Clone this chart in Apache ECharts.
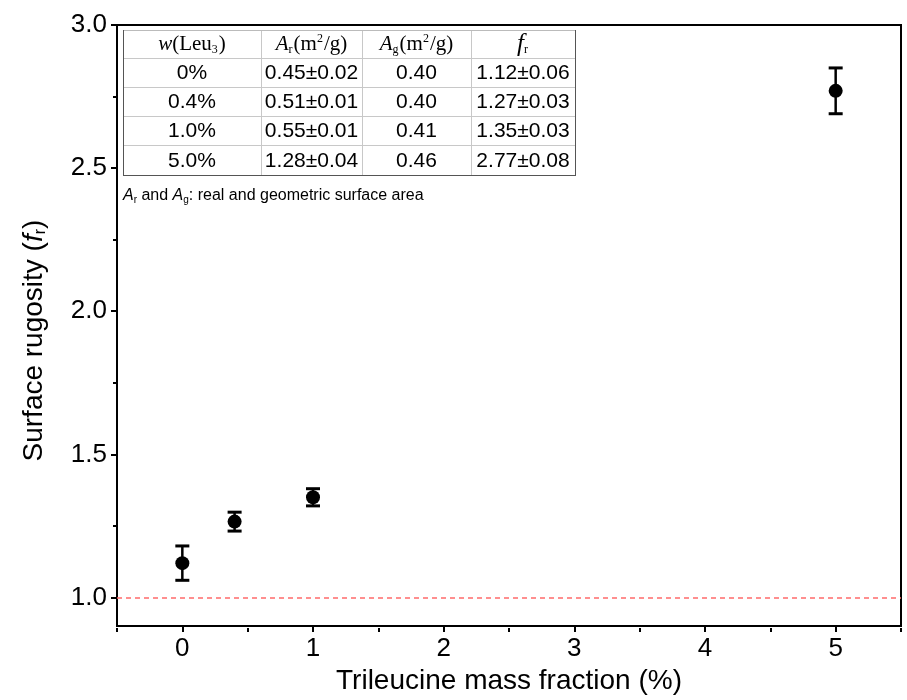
<!DOCTYPE html>
<html><head><meta charset="utf-8">
<script src="https://cdn.jsdelivr.net/npm/echarts@6/dist/echarts.min.js"></script>
<style>html,body{margin:0;padding:0;background:#fff}#c{width:907px;height:700px}</style>
</head><body><div id="c"></div>
<script>
// ---- data ----
const massFraction = [0, 0.4, 1, 5];
const rugosity = [1.12, 1.265, 1.35, 2.77];
const rugosityErr = [0.06, 0.033, 0.03, 0.08];
const xTickLabels = [0, 1, 2, 3, 4, 5];
const xMinorTicks = [-0.5, 0.5, 1.5, 2.5, 3.5, 4.5, 5.5];
const yTickLabels = [1.0, 1.5, 2.0, 2.5, 3.0];
const yMinorTicks = [1.25, 1.75, 2.25, 2.75];
const refLine = 1.0;
const tableWeight = ['0%', '0.4%', '1.0%', '5.0%'];
const tableAr = ['0.45±0.02', '0.51±0.01', '0.55±0.01', '1.28±0.04'];
const tableAg = ['0.40', '0.40', '0.41', '0.46'];
const tableFr = ['1.12±0.06', '1.27±0.03', '1.35±0.03', '2.77±0.08'];
const tableHeader = ['{i|w}{n|(Leu}{s|3}{n|)}', '{i|A}{s|r}{n|(m}{p|2}{n|/g)}', '{i|A}{s|g}{n|(m}{p|2}{n|/g)}', '{f|f}{s|r}'];
const noteText = '{i|A}{s|r}{n| and }{i|A}{s|g}{n|: real and geometric surface area}';

// ---- layout ----
const colX = [123, 261, 362, 471, 575];
const rowY = [30, 58, 87, 116, 145, 175];
const SANS = 'Liberation Sans, Arial, sans-serif';
const SERIF = 'Liberation Serif, Times New Roman, serif';

const graphics = [];
graphics.push({type: 'rect', shape: {x: colX[0], y: rowY[0], width: colX[4] - colX[0], height: rowY[5] - rowY[0]},
  style: {fill: '#fff', stroke: null}, z: 10});
for (let i = 1; i < rowY.length - 1; i++) {
  graphics.push({type: 'line', shape: {x1: colX[0], y1: rowY[i] + 0.5, x2: colX[4], y2: rowY[i] + 0.5},
    style: {stroke: '#c8c8c8', lineWidth: 1}, z: 11});
}
for (let j = 1; j < colX.length - 1; j++) {
  graphics.push({type: 'line', shape: {x1: colX[j] + 0.5, y1: rowY[0], x2: colX[j] + 0.5, y2: rowY[5]},
    style: {stroke: '#c8c8c8', lineWidth: 1}, z: 11});
}
graphics.push({type: 'line', shape: {x1: colX[0], y1: rowY[0] + 0.5, x2: colX[4], y2: rowY[0] + 0.5}, style: {stroke: '#bbb', lineWidth: 1}, z: 12});
graphics.push({type: 'line', shape: {x1: colX[0] + 0.5, y1: rowY[0], x2: colX[0] + 0.5, y2: rowY[5]}, style: {stroke: '#555', lineWidth: 1}, z: 12});
graphics.push({type: 'line', shape: {x1: colX[4] + 0.5, y1: rowY[0], x2: colX[4] + 0.5, y2: rowY[5]}, style: {stroke: '#555', lineWidth: 1}, z: 12});
graphics.push({type: 'line', shape: {x1: colX[0], y1: rowY[5] + 0.5, x2: colX[4] + 1, y2: rowY[5] + 0.5}, style: {stroke: '#555', lineWidth: 1}, z: 12});

const headRich = {
  n: {fontFamily: SERIF, fontSize: 21, color: '#000'},
  i: {fontFamily: SERIF, fontSize: 21, fontStyle: 'italic', color: '#000'},
  f: {fontFamily: SERIF, fontSize: 25, fontStyle: 'italic', color: '#000'},
  s: {fontFamily: SERIF, fontSize: 12, color: '#000', padding: [11, 1, 0, 0]},
  p: {fontFamily: SERIF, fontSize: 12, color: '#000', padding: [0, 1, 10, 0]}
};
tableHeader.forEach((h, j) => {
  graphics.push({type: 'text', x: (colX[j] + colX[j + 1]) / 2, y: (rowY[0] + rowY[1]) / 2, z: 13,
    style: {text: h, rich: headRich, align: 'center', verticalAlign: 'middle'}});
});
const cols = [tableWeight, tableAr, tableAg, tableFr];
cols.forEach((col, j) => {
  col.forEach((t, i) => {
    graphics.push({type: 'text', x: (colX[j] + colX[j + 1]) / 2, y: (rowY[i + 1] + rowY[i + 2]) / 2 + 1, z: 13,
      style: {text: t, fontFamily: SANS, fontSize: 21, fill: '#000', align: 'center', verticalAlign: 'middle'}});
  });
});
graphics.push({type: 'text', x: colX[0], y: 196, z: 13,
  style: {text: noteText, align: 'left', verticalAlign: 'middle', rich: {
    n: {fontFamily: SANS, fontSize: 16, color: '#000'},
    i: {fontFamily: SANS, fontSize: 16, fontStyle: 'italic', color: '#000'},
    s: {fontFamily: SANS, fontSize: 10, color: '#000', padding: [9, 0, 0, 0]}
  }}});

const errData = massFraction.map((x, i) => [x, rugosity[i] - rugosityErr[i], rugosity[i] + rugosityErr[i]]);
const ptData = massFraction.map((x, i) => [x, rugosity[i]]);

const axisLineStyle = {color: '#000', width: 2};
const option = {
  animation: false,
  backgroundColor: '#fff',
  grid: {left: 117, right: 6, top: 25, bottom: 72, show: true, borderColor: '#000', borderWidth: 2, containLabel: false},
  xAxis: [{
    type: 'value', min: -0.5, max: 5.5,
    axisLine: {show: true, onZero: false, lineStyle: axisLineStyle},
    axisTick: {show: true, customValues: xTickLabels, length: 6, lineStyle: {color: '#000', width: 2}},
    axisLabel: {customValues: xTickLabels, fontFamily: SANS, fontSize: 26, color: '#000', margin: 10},
    splitLine: {show: false},
    name: 'Trileucine mass fraction (%)', nameLocation: 'middle', nameGap: 40,
    nameTextStyle: {fontFamily: SANS, fontSize: 28, color: '#000'}
  }, {
    type: 'value', min: -0.5, max: 5.5, position: 'top', offset: -603,
    axisLine: {show: false, onZero: false},
    axisTick: {show: true, inside: true, customValues: xMinorTicks, length: 4, lineStyle: {color: '#000', width: 2}},
    axisLabel: {show: false}, splitLine: {show: false}
  }],
  yAxis: [{
    type: 'value', min: 0.9, max: 3.0,
    axisLine: {show: true, onZero: false, lineStyle: axisLineStyle},
    axisTick: {show: true, customValues: yTickLabels, length: 6, lineStyle: {color: '#000', width: 2}},
    axisLabel: {customValues: yTickLabels, fontFamily: SANS, fontSize: 26, color: '#000', margin: 10,
      formatter: v => v.toFixed(1)},
    splitLine: {show: false},
    name: '{n|Surface rugosity (}{i|f}{s|r}{n|)}', nameLocation: 'middle', nameGap: 68,
    nameTextStyle: {padding: [0, 30, 0, 0], rich: {
      n: {fontFamily: SANS, fontSize: 28, color: '#000'},
      i: {fontFamily: SANS, fontSize: 28, fontStyle: 'italic', color: '#000'},
      s: {fontFamily: SANS, fontSize: 16, color: '#000', padding: [14, 0, 0, 0]}
    }}
  }, {
    type: 'value', min: 0.9, max: 3.0, position: 'right', offset: -784,
    axisLine: {show: false, onZero: false},
    axisTick: {show: true, inside: true, customValues: yMinorTicks, length: 4, lineStyle: {color: '#000', width: 2}},
    axisLabel: {show: false}, splitLine: {show: false}
  }],
  graphic: graphics,
  series: [{
    type: 'custom', xAxisIndex: 0, yAxisIndex: 0, data: errData, z: 3,
    renderItem: function (params, api) {
      const x = api.value(0);
      const lo = api.coord([x, api.value(1)]);
      const hi = api.coord([x, api.value(2)]);
      const w = 7;
      return {type: 'group', children: [
        {type: 'line', shape: {x1: hi[0], y1: hi[1], x2: lo[0], y2: lo[1]}, style: {stroke: '#000', lineWidth: 2.5}},
        {type: 'line', shape: {x1: hi[0] - w, y1: hi[1], x2: hi[0] + w, y2: hi[1]}, style: {stroke: '#000', lineWidth: 3}},
        {type: 'line', shape: {x1: lo[0] - w, y1: lo[1], x2: lo[0] + w, y2: lo[1]}, style: {stroke: '#000', lineWidth: 3}}
      ]};
    }
  }, {
    type: 'scatter', xAxisIndex: 0, yAxisIndex: 0, data: ptData, symbol: 'circle', symbolSize: 14, z: 4,
    itemStyle: {color: '#000', opacity: 1},
    markLine: {silent: true, symbol: 'none', label: {show: false},
      lineStyle: {color: '#ff6b6b', type: [5, 4], width: 1.5},
      data: [{yAxis: refLine}]}
  }]
};
const chart = echarts.init(document.getElementById('c'), null, {renderer: 'canvas'});
chart.setOption(option);
</script></body></html>
